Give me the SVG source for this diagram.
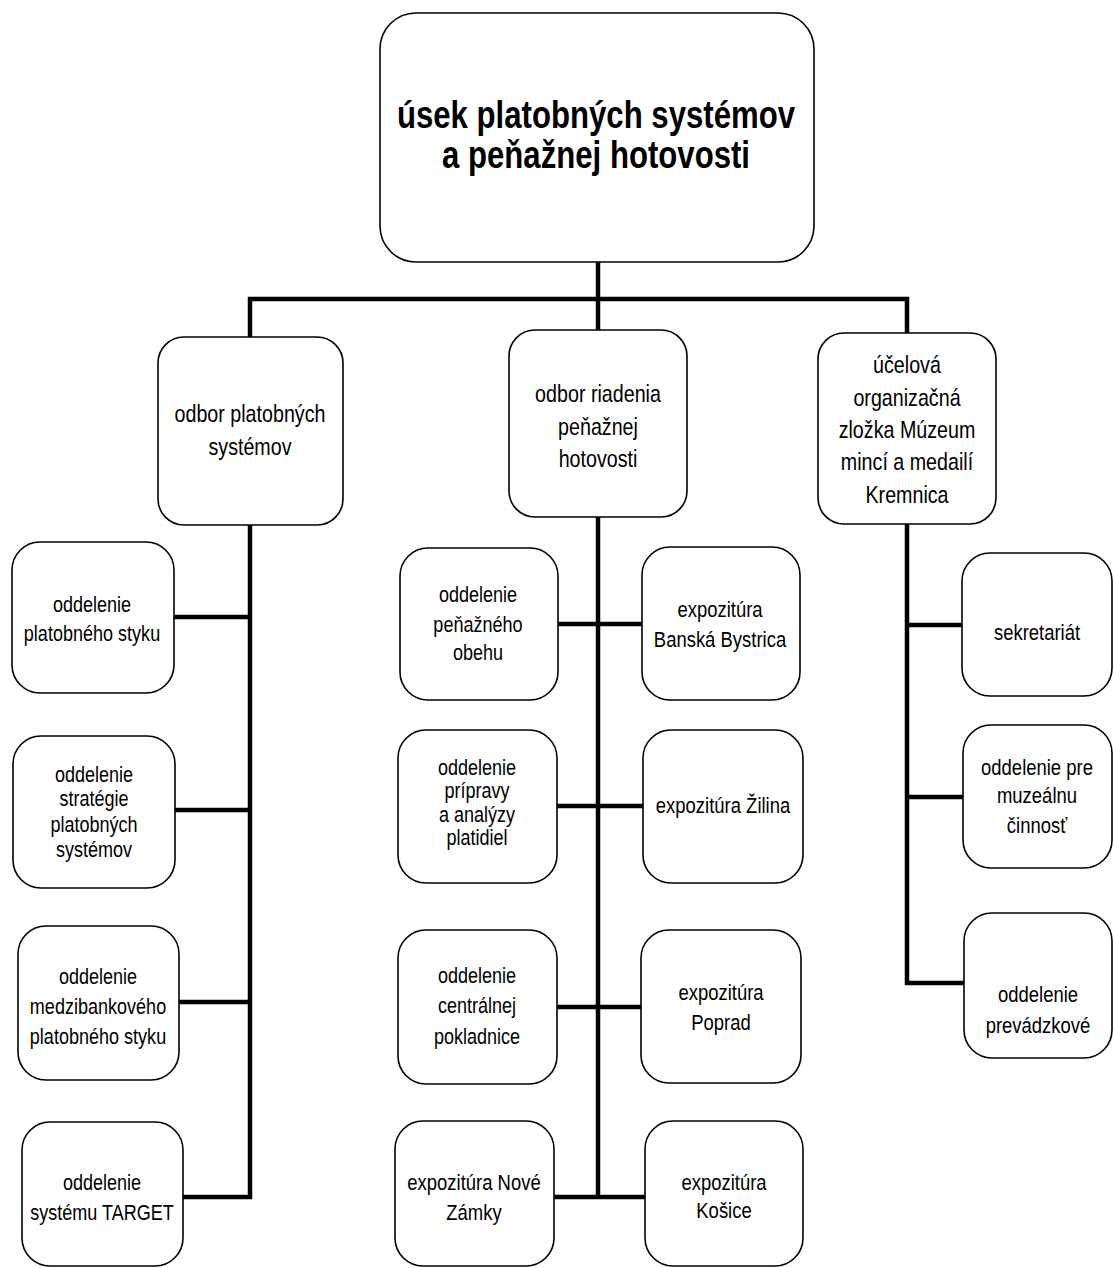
<svg xmlns="http://www.w3.org/2000/svg" width="1113" height="1268" viewBox="0 0 1113 1268">
<style>
.box{fill:#fff;stroke:#000;stroke-width:1.6}
.t{font-family:"Liberation Sans",Arial,sans-serif;font-size:22px;fill:#000;text-anchor:middle}
.t2{font-family:"Liberation Sans",Arial,sans-serif;font-size:24px;fill:#000;text-anchor:middle}
.title{font-family:"Liberation Sans",Arial,sans-serif;font-size:38px;font-weight:bold;fill:#000;text-anchor:middle}
.c{fill:none;stroke:#000;stroke-width:4.5;stroke-linecap:square;stroke-linejoin:miter}
</style>
<rect width="1113" height="1268" fill="#fff"/>
<g id="connectors">
<path class="c" d="M598,262 V299 M250,337 V299 H907 V333 M598,299 V330"/>
<path class="c" d="M250,525 V1197 H183 M174,617 H250 M175,810 H250 M179,1002 H250"/>
<path class="c" d="M598,517 V1197 M558,624 H642 M557,806 H643 M557,1007 H641 M554,1197 H645"/>
<path class="c" d="M907,524 V983 H964 M907,625 H962 M907,797 H963"/>
</g>
<g id="n-top">
<rect class="box" x="380" y="13" width="434" height="249" rx="36"/>
<g transform="translate(596 0) scale(0.82 1)">
<text class="title" x="0" y="128">úsek platobných systémov</text>
<text class="title" x="0" y="168">a peňažnej hotovosti</text>
</g>
</g>
<g id="n-odbor-ps">
<rect class="box" x="158" y="337" width="185" height="188" rx="26"/>
<g transform="translate(250 0) scale(0.82 1)">
<text class="t2" x="0" y="422">odbor platobných</text>
<text class="t2" x="0" y="455">systémov</text>
</g>
</g>
<g id="n-odbor-rph">
<rect class="box" x="509" y="330" width="178" height="187" rx="26"/>
<g transform="translate(598 0) scale(0.82 1)">
<text class="t2" x="0" y="402">odbor riadenia</text>
<text class="t2" x="0" y="435">peňažnej</text>
<text class="t2" x="0" y="467">hotovosti</text>
</g>
</g>
<g id="n-muzeum">
<rect class="box" x="818" y="333" width="178" height="191" rx="26"/>
<g transform="translate(907 0) scale(0.82 1)">
<text class="t2" x="0" y="373">účelová</text>
<text class="t2" x="0" y="406">organizačná</text>
<text class="t2" x="0" y="438">zložka Múzeum</text>
<text class="t2" x="0" y="470">mincí a medailí</text>
<text class="t2" x="0" y="503">Kremnica</text>
</g>
</g>
<g id="n-ps-styk">
<rect class="box" x="12" y="542" width="162" height="151" rx="28"/>
<g transform="translate(92 0) scale(0.82 1)">
<text class="t" x="0" y="612">oddelenie</text>
<text class="t" x="0" y="641">platobného styku</text>
</g>
</g>
<g id="n-strategia">
<rect class="box" x="13" y="736" width="162" height="152" rx="28"/>
<g transform="translate(94 0) scale(0.82 1)">
<text class="t" x="0" y="782">oddelenie</text>
<text class="t" x="0" y="806">stratégie</text>
<text class="t" x="0" y="832">platobných</text>
<text class="t" x="0" y="857">systémov</text>
</g>
</g>
<g id="n-medzibank">
<rect class="box" x="18" y="926" width="161" height="154" rx="28"/>
<g transform="translate(98 0) scale(0.82 1)">
<text class="t" x="0" y="984">oddelenie</text>
<text class="t" x="0" y="1014">medzibankového</text>
<text class="t" x="0" y="1044">platobného styku</text>
</g>
</g>
<g id="n-target">
<rect class="box" x="22" y="1122" width="161" height="144" rx="28"/>
<g transform="translate(102 0) scale(0.82 1)">
<text class="t" x="0" y="1190">oddelenie</text>
<text class="t" x="0" y="1220">systému TARGET</text>
</g>
</g>
<g id="n-obeh">
<rect class="box" x="400" y="548" width="158" height="152" rx="28"/>
<g transform="translate(478 0) scale(0.82 1)">
<text class="t" x="0" y="602">oddelenie</text>
<text class="t" x="0" y="632">peňažného</text>
<text class="t" x="0" y="660">obehu</text>
</g>
</g>
<g id="n-bb">
<rect class="box" x="642" y="547" width="158" height="153" rx="28"/>
<g transform="translate(720 0) scale(0.84 1)">
<text class="t" x="0" y="617">expozitúra</text>
<text class="t" x="0" y="647">Banská Bystrica</text>
</g>
</g>
<g id="n-priprava">
<rect class="box" x="398" y="730" width="159" height="153" rx="28"/>
<g transform="translate(477 0) scale(0.82 1)">
<text class="t" x="0" y="775">oddelenie</text>
<text class="t" x="0" y="798">prípravy</text>
<text class="t" x="0" y="822">a analýzy</text>
<text class="t" x="0" y="845">platidiel</text>
</g>
</g>
<g id="n-zilina">
<rect class="box" x="643" y="730" width="160" height="153" rx="28"/>
<g transform="translate(723 0) scale(0.84 1)">
<text class="t" x="0" y="813">expozitúra Žilina</text>
</g>
</g>
<g id="n-pokladnica">
<rect class="box" x="398" y="930" width="159" height="154" rx="28"/>
<g transform="translate(477 0) scale(0.82 1)">
<text class="t" x="0" y="983">oddelenie</text>
<text class="t" x="0" y="1013">centrálnej</text>
<text class="t" x="0" y="1044">pokladnice</text>
</g>
</g>
<g id="n-poprad">
<rect class="box" x="641" y="930" width="160" height="153" rx="28"/>
<g transform="translate(721 0) scale(0.84 1)">
<text class="t" x="0" y="1000">expozitúra</text>
<text class="t" x="0" y="1030">Poprad</text>
</g>
</g>
<g id="n-nz">
<rect class="box" x="395" y="1121" width="159" height="145" rx="28"/>
<g transform="translate(474 0) scale(0.84 1)">
<text class="t" x="0" y="1190">expozitúra Nové</text>
<text class="t" x="0" y="1220">Zámky</text>
</g>
</g>
<g id="n-ke">
<rect class="box" x="645" y="1121" width="158" height="145" rx="28"/>
<g transform="translate(724 0) scale(0.84 1)">
<text class="t" x="0" y="1190">expozitúra</text>
<text class="t" x="0" y="1218">Košice</text>
</g>
</g>
<g id="n-sekretariat">
<rect class="box" x="962" y="553" width="150" height="143" rx="28"/>
<g transform="translate(1037 0) scale(0.84 1)">
<text class="t" x="0" y="640">sekretariát</text>
</g>
</g>
<g id="n-muzealna">
<rect class="box" x="963" y="725" width="149" height="143" rx="28"/>
<g transform="translate(1037 0) scale(0.84 1)">
<text class="t" x="0" y="775">oddelenie pre</text>
<text class="t" x="0" y="803">muzeálnu</text>
<text class="t" x="0" y="833">činnosť</text>
</g>
</g>
<g id="n-prevadzka">
<rect class="box" x="964" y="913" width="148" height="145" rx="28"/>
<g transform="translate(1038 0) scale(0.84 1)">
<text class="t" x="0" y="1002">oddelenie</text>
<text class="t" x="0" y="1033">prevádzkové</text>
</g>
</g>
</svg>
